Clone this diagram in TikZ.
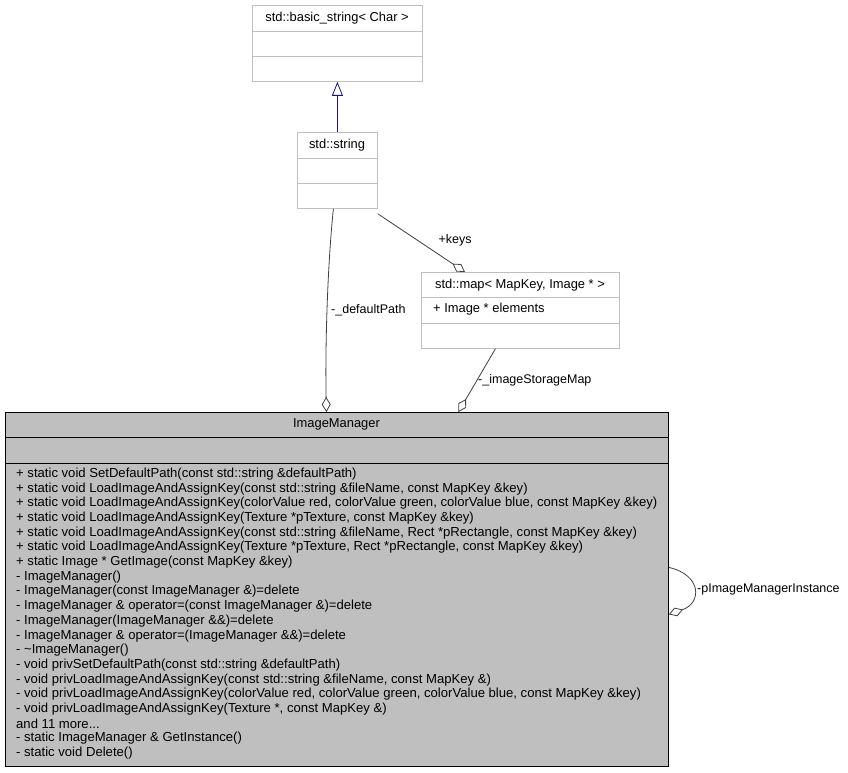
\documentclass[tikz,border=0pt]{standalone}
\usepackage{fontspec}
\setmainfont{Liberation Sans}
\usetikzlibrary{arrows.meta}
\definecolor{boxline}{HTML}{BFBFBF}
\definecolor{imfill}{HTML}{BFBFBF}
\definecolor{conn}{HTML}{404040}
\definecolor{inh}{HTML}{191970}
\newcommand\mytrdots{...}
\begin{document}
\begin{tikzpicture}[x=1pt,y=-1pt,
  txt/.style={inner sep=0pt, font=\fontsize{12.5}{14}\selectfont},
  btxt/.style={inner sep=0pt, font=\fontsize{12.9}{14}\selectfont},
  lbl/.style={txt, anchor=west},
  mth/.style={inner sep=0pt, anchor=west, font=\fontsize{13.1}{14}\selectfont},
  classbox/.style={draw=boxline, fill=white, line width=0.8pt, anchor=north west, inner sep=0pt},
  imbox/.style={draw=black, fill=imfill, line width=0.8pt, anchor=north west, inner sep=0pt},
  assoc/.style={draw=conn, line width=0.8pt, -{Diamond[open,length=15pt,width=9pt,line width=0.8pt]}},
  inherit/.style={draw=inh, line width=0.8pt, -{Triangle[open,length=14pt,width=11pt,line width=0.8pt]}}]
\useasboundingbox (0,0) rectangle (848,773);

% std::basic_string
\node[classbox, minimum width=170, minimum height=76] (bs) at (252,5) {};
\draw[boxline, line width=0.8pt] (252,31) -- (422,31) (252,56) -- (422,56);
\node[btxt] (bst) at (337,18) {std::basic\_string< Char >};

% std::string
\node[classbox, minimum width=80, minimum height=76] (str) at (297,132) {};
\draw[boxline, line width=0.8pt] (297,158) -- (377,158) (297,183) -- (377,183);
\node[btxt] (strt) at (337,145) {std::string};

% std::map
\node[classbox, minimum width=198, minimum height=76] (map) at (421,272) {};
\draw[boxline, line width=0.8pt] (421,297) -- (619,297) (421,323) -- (619,323);
\node[btxt] (mapt) at (520,285) {std::map< MapKey, Image * >};
\node[btxt, anchor=west] (mapa) at (433,309) {+ Image * elements};

% ImageManager
\node[imbox, minimum width=663, minimum height=354] (im) at (5,412) {};
\draw[black, line width=0.8pt] (5,437) -- (668,437) (5,463) -- (668,463);
\node[btxt] (imt) at (336.5,424.5) {ImageManager};
\foreach \t [count=\i from 0] in {
 {+ static void SetDefaultPath(const std::string \&defaultPath)},
 {+ static void LoadImageAndAssignKey(const std::string \&fileName, const MapKey \&key)},
 {+ static void LoadImageAndAssignKey(colorValue red, colorValue green, colorValue blue, const MapKey \&key)},
 {+ static void LoadImageAndAssignKey(Texture *pTexture, const MapKey \&key)},
 {+ static void LoadImageAndAssignKey(const std::string \&fileName, Rect *pRectangle, const MapKey \&key)},
 {+ static void LoadImageAndAssignKey(Texture *pTexture, Rect *pRectangle, const MapKey \&key)},
 {+ static Image * GetImage(const MapKey \&key)},
 {- ImageManager()},
 {- ImageManager(const ImageManager \&)=delete},
 {- ImageManager \& operator=(const ImageManager \&)=delete},
 {- ImageManager(ImageManager \&\&)=delete},
 {- ImageManager \& operator=(ImageManager \&\&)=delete},
 {- \textasciitilde ImageManager()},
 {- void privSetDefaultPath(const std::string \&defaultPath)},
 {- void privLoadImageAndAssignKey(const std::string \&fileName, const MapKey \&)},
 {- void privLoadImageAndAssignKey(colorValue red, colorValue green, colorValue blue, const MapKey \&key)},
 {- void privLoadImageAndAssignKey(Texture *, const MapKey \&)},
 {and 11 more\mytrdots},
 {- static ImageManager \& GetInstance()},
 {- static void Delete()}}
 { \node[mth] (m\i) at (16,474+14.7*\i) {\t}; }

% inheritance
\draw[inherit] (str.north) -- (bs.south);

% +keys
\draw[assoc] ([yshift=-5pt]str.south east) -- ([xshift=44pt]map.north west);
\node[txt] (lkeys) at (455,240) {+keys};

% _defaultPath
\draw[assoc] ([xshift=-4pt]str.south) .. controls (328,260) and (325,340) .. ([xshift=-10.5pt]im.north);
\node[lbl] (ldp) at (331,310) {-\_defaultPath};

% _imageStorageMap
\draw[assoc] ([xshift=-25pt]map.south) -- ([xshift=121.5pt]im.north);
\node[lbl] (lism) at (478,380) {-\_imageStorageMap};

% self
\draw[assoc] ([yshift=22pt]im.east) .. controls (702,575) and (702,603) .. ([yshift=-25pt]im.east);
\node[lbl] (lself) at (697,589) {-pImageManagerInstance};
\end{tikzpicture}
\end{document}
